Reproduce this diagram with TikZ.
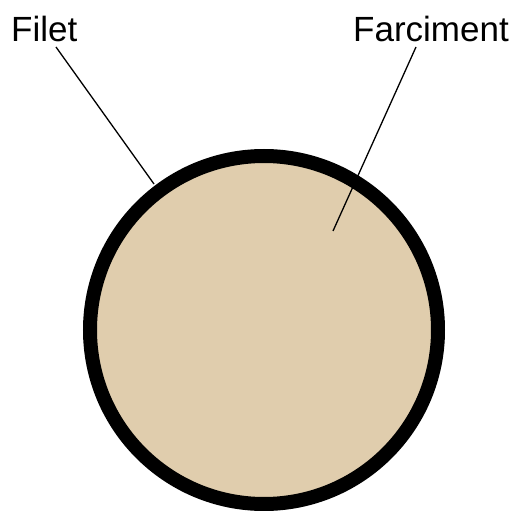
\documentclass[tikz,border=0pt]{standalone}
\usepackage{fontspec}
\setmainfont{Liberation Sans}
\definecolor{farci}{HTML}{E0CDAD}
\tikzset{
  lbl/.style={inner sep=0pt, font=\fontsize{35}{40}\selectfont, text=black},
  leader/.style={draw=black, line width=1.3pt}
}
\begin{document}
\begin{tikzpicture}[x=1pt,y=-1pt]
\useasboundingbox (0,0) rectangle (515,511);
\node[circle, minimum size=348pt, inner sep=0pt, draw=black, line width=14pt, fill=farci] (c) at (264,330) {};
\node[lbl, anchor=base west] (filet) at (11,42) {Filet};
\node[lbl, anchor=base east] (farci) at (509,42) {Farciment};
\coordinate (fe) at (154,184);
\coordinate (ce) at (333,231);
\draw[leader] (56,47) -- (fe);
\draw[leader] (416,47) -- (ce);
\end{tikzpicture}
\end{document}
